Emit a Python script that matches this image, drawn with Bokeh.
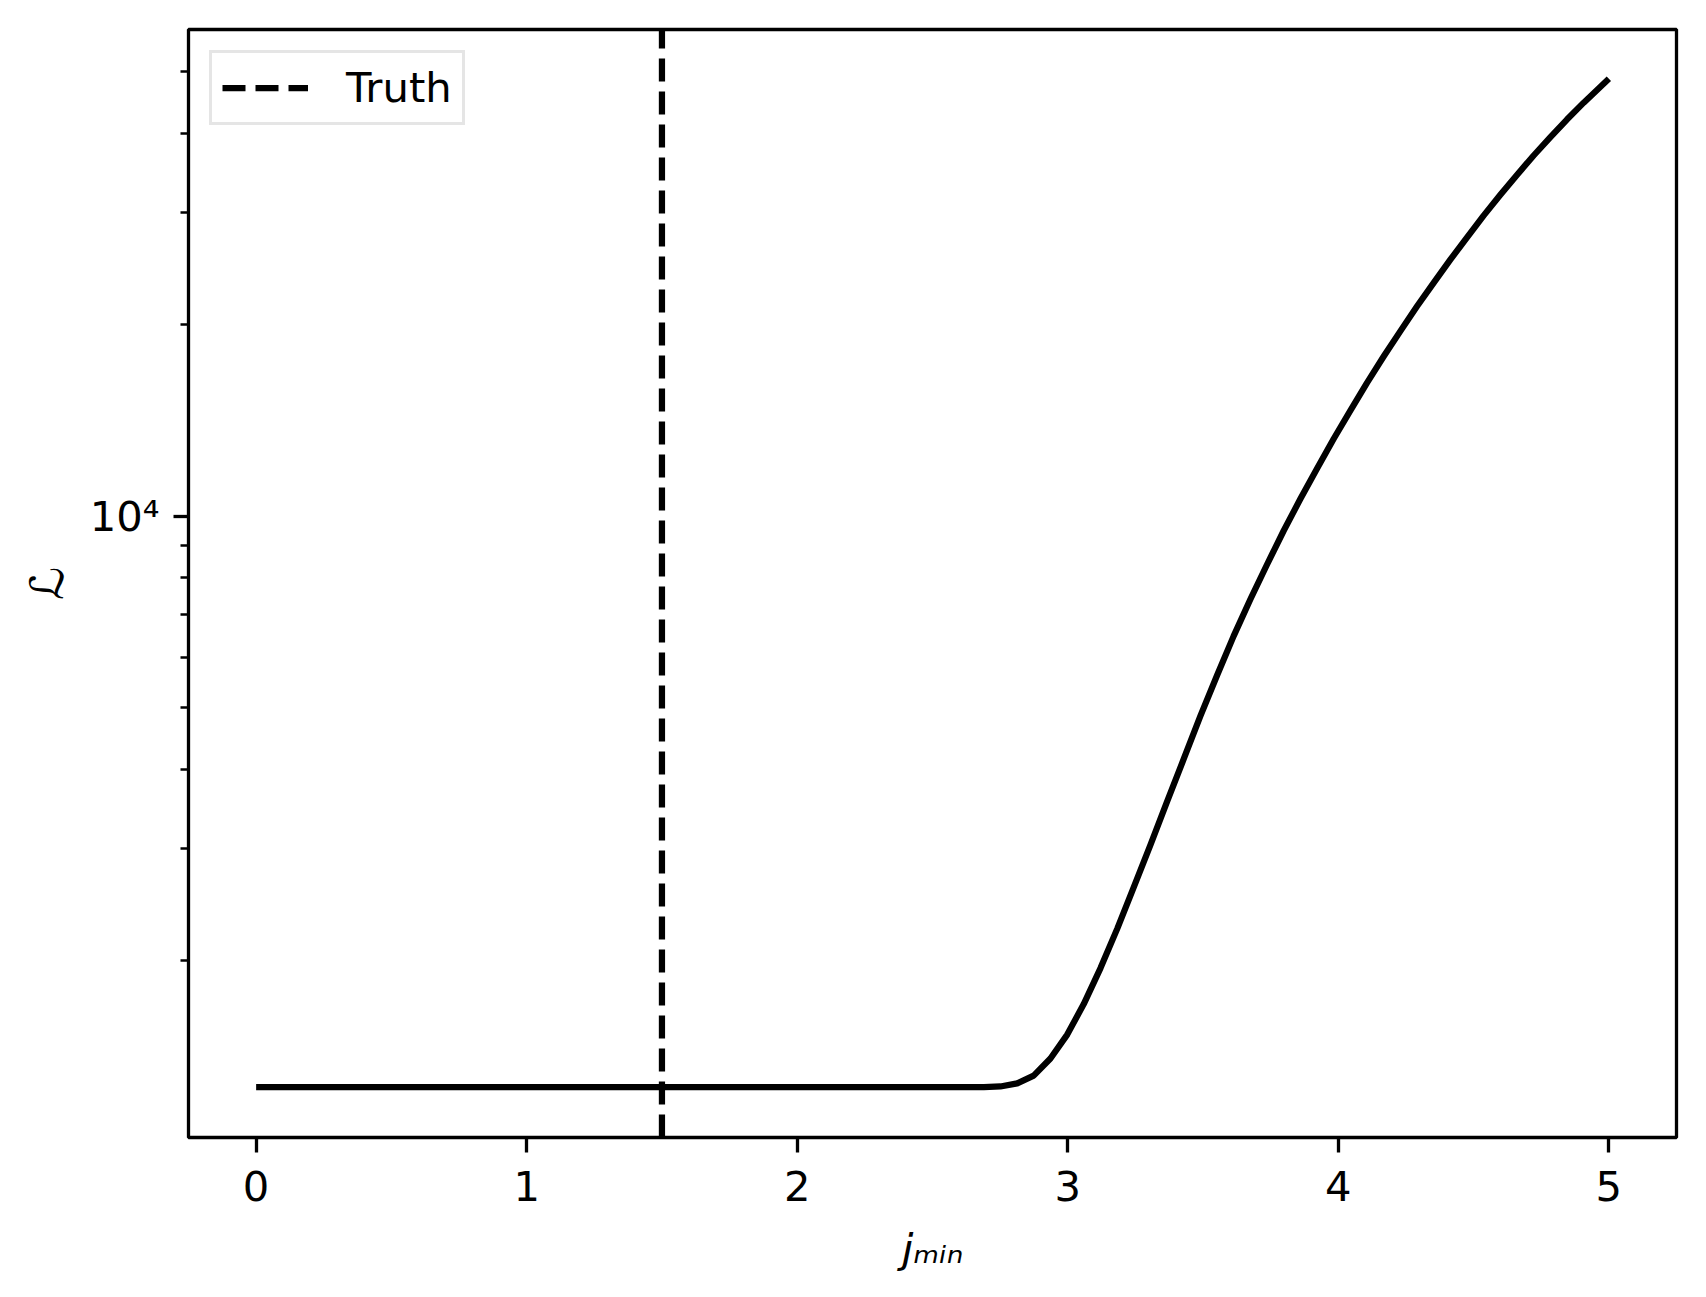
from bokeh.plotting import figure
from bokeh.models import Range1d, FixedTicker
from bokeh.embed import file_html
from bokeh.resources import INLINE

# ---- data ----
j_min = [0.0, 2.69, 2.751, 2.813, 2.874, 2.936, 2.998, 3.059, 3.121, 3.183, 3.244, 3.306,
         3.367, 3.429, 3.490, 3.552, 3.613, 3.675, 3.737, 3.798, 3.860, 3.922, 3.983, 4.045,
         4.106, 4.168, 4.230, 4.291, 4.353, 4.414, 4.476, 4.537, 4.599, 4.661, 4.722, 4.784,
         4.845, 4.907, 4.969, 5.0]
likelihood = [1265, 1265, 1268, 1282, 1319, 1403, 1530, 1709, 1947, 2246, 2610, 3045,
              3557, 4156, 4848, 5623, 6478, 7404, 8405, 9489, 10654, 11900, 13243, 14678,
              16216, 17850, 19572, 21392, 23310, 25330, 27460, 29710, 32050, 34460, 36940, 39480,
              42080, 44730, 47370, 48780]
truth = 1.5
x_ticks = [0, 1, 2, 3, 4, 5]
y_major_ticks = [10000]
y_major_labels = {10000: "10⁴"}
y_minor_ticks = [2000, 3000, 4000, 5000, 6000, 7000, 8000, 9000, 20000, 30000, 40000, 50000]
legend_label = "Truth"
x_label = "jₘᵢₙ"
y_label = "ℒ"

FONT = "DejaVu Sans"
FS = "41.7px"

ymin, ymax = 1054, 58300

p = figure(width=1700, height=1290, y_axis_type="log",
           x_range=Range1d(-0.25, 5.25), y_range=Range1d(ymin, ymax),
           output_backend="svg", toolbar_location=None,
           min_border_left=188, min_border_right=24,
           min_border_top=29, min_border_bottom=153)

p.background_fill_color = "white"
p.border_fill_color = "white"
p.outline_line_color = "black"
p.outline_line_width = 3.3
p.xgrid.visible = False
p.ygrid.visible = False

p.line(j_min, likelihood, line_color="black", line_width=6.25, line_join="round")
p.line([truth, truth], [ymin, ymax], line_color="black", line_width=6.25,
       line_dash="23 10", legend_label=legend_label)

for ax in (p.xaxis[0], p.yaxis[0]):
    ax.axis_line_color = None
    ax.major_tick_in = 0
    ax.major_tick_out = 15
    ax.minor_tick_in = 0
    ax.minor_tick_out = 8
    ax.major_tick_line_width = 3.3
    ax.minor_tick_line_width = 2.5
    ax.major_tick_line_color = "black"
    ax.minor_tick_line_color = "black"
    ax.major_label_text_font = FONT
    ax.major_label_text_font_size = FS
    ax.major_label_text_color = "black"

p.xaxis[0].ticker = FixedTicker(ticks=x_ticks, minor_ticks=[])
p.xaxis[0].major_label_standoff = 18
p.xaxis[0].axis_label = x_label
p.xaxis[0].axis_label_text_font = FONT
p.xaxis[0].axis_label_text_font_size = FS
p.xaxis[0].axis_label_text_font_style = "italic"
p.xaxis[0].axis_label_text_color = "black"
p.xaxis[0].axis_label_standoff = 20

p.yaxis[0].ticker = FixedTicker(ticks=y_major_ticks, minor_ticks=y_minor_ticks)
p.yaxis[0].major_label_overrides = y_major_labels
p.yaxis[0].major_label_standoff = 14
p.yaxis[0].axis_label = y_label
p.yaxis[0].axis_label_text_font = FONT
p.yaxis[0].axis_label_text_font_size = "46px"
p.yaxis[0].axis_label_text_font_style = "normal"
p.yaxis[0].axis_label_text_color = "black"
p.yaxis[0].axis_label_standoff = 13

lg = p.legend[0]
lg.location = "top_left"
lg.margin = 21
lg.padding = 10
lg.spacing = 0
lg.glyph_width = 86
lg.glyph_height = 41
lg.label_height = 41
lg.label_standoff = 38
lg.label_text_font = FONT
lg.label_text_font_size = FS
lg.label_text_color = "black"
lg.border_line_color = "#cccccc"
lg.border_line_width = 3.3
lg.background_fill_alpha = 0.8

open("out.html", "w").write(file_html(p, INLINE))
